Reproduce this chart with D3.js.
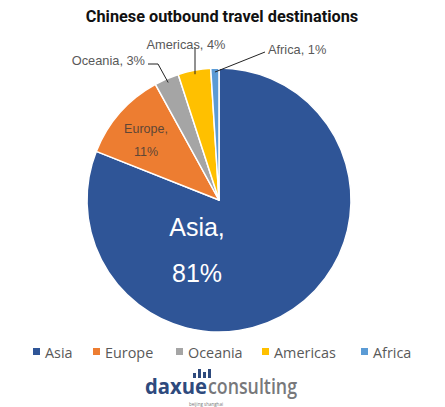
<!DOCTYPE html>
<html>
<head>
<meta charset="utf-8">
<script src="https://cdn.jsdelivr.net/npm/d3@7"></script>
<style>
  html, body { margin: 0; padding: 0; background: #fff; }
  svg { display: block; }
</style>
</head>
<body>
<svg id="chart" width="445" height="407"></svg>
<script>
// Destination shares (% of outbound trips)
const regions = ["Asia", "Europe", "Oceania", "Americas", "Africa"];
const shares = [81, 11, 3, 4, 1];
const colors = ["#2F5597", "#ED7D31", "#A5A5A5", "#FFC000", "#5B9BD5"];

const W = 445, H = 407;
const cx = 219, cy = 200, R = 132;

const svg = d3.select("#chart");

// Title
svg.append("text")
  .attr("x", 222).attr("y", 22)
  .attr("text-anchor", "middle")
  .attr("font-family", "Roboto, 'Liberation Sans', sans-serif")
  .attr("font-weight", "bold")
  .attr("font-size", 16.3)
  .attr("fill", "#111")
  .text("Chinese outbound travel destinations");

const data = regions.map((r, i) => ({ region: r, value: shares[i], color: colors[i] }));

const pie = d3.pie().sort(null).value(d => d.value);
const arcs = pie(data);
const arc = d3.arc().innerRadius(0).outerRadius(R);

const g = svg.append("g").attr("transform", `translate(${cx},${cy})`);

g.selectAll("path.slice")
  .data(arcs)
  .join("path")
  .attr("class", "slice")
  .attr("d", arc)
  .attr("fill", d => d.data.color)
  .attr("stroke", "#fff")
  .attr("stroke-width", 1.5)
  .attr("stroke-linejoin", "round");

const labelFont = "Arial, 'Liberation Sans', sans-serif";

// Inside labels for large slices: placed at a point relative to the pie centre
function insideLabel(px, py, lines, size, fill, gap) {
  const t = g.append("text")
    .attr("text-anchor", "middle")
    .attr("font-family", labelFont)
    .attr("font-size", size)
    .attr("fill", fill);
  lines.forEach((ln, i) => {
    t.append("tspan")
      .attr("x", px)
      .attr("y", py + (i - (lines.length - 1) / 2) * gap + size * 0.35)
      .text(ln);
  });
}

const byName = Object.fromEntries(arcs.map(a => [a.data.region, a]));
insideLabel(-22, 50, ["Asia,", byName["Asia"].data.value + "%"], 25, "#fff", 46);
insideLabel(-73, -60, ["Europe,", byName["Europe"].data.value + "%"], 12.5, "#5e4636", 23);

// Outside labels with leader lines
const outside = [
  { name: "Oceania", tx: 145, ty: 65, anchor: "end", pts: [[148, 64], [158, 64]] },
  { name: "Americas", tx: 186, ty: 49, anchor: "middle", pts: [[193, 47]] },
  { name: "Africa", tx: 268, ty: 54, anchor: "start", pts: [[265, 52]] }
];

outside.forEach(o => {
  const d = byName[o.name];
  const a = (d.startAngle + d.endAngle) / 2;
  const ex = cx + Math.sin(a) * R * 0.97, ey = cy - Math.cos(a) * R * 0.97;
  let pts = o.pts.concat([[ex, ey]]);
  if (o.name === "Americas") pts = [[ex, o.pts[0][1]], [ex, ey]];
  svg.append("path")
    .attr("d", d3.line()(pts))
    .attr("fill", "none")
    .attr("stroke", "#222")
    .attr("stroke-width", 1);
  svg.append("text")
    .attr("x", o.tx).attr("y", o.ty)
    .attr("text-anchor", o.anchor)
    .attr("font-family", labelFont)
    .attr("font-size", 12.8)
    .attr("fill", "#595959")
    .text(`${o.name}, ${d.data.value}%`);
});

// Legend
const legendX = [33, 93, 176, 262, 361];
const legend = svg.append("g");
data.forEach((d, i) => {
  legend.append("rect")
    .attr("x", legendX[i]).attr("y", 348)
    .attr("width", 7).attr("height", 7)
    .attr("fill", d.color);
  legend.append("text")
    .attr("x", legendX[i] + 12).attr("y", 357.5)
    .attr("font-family", "'Open Sans', 'Noto Sans', sans-serif")
    .attr("font-size", 14.4)
    .attr("fill", "#595959")
    .text(d.region);
});

// Brand mark: four bars over a two-tone wordmark
const logo = svg.append("g");
const barHeights = [5, 9, 6, 9];
const barX = [193, 198, 203, 208];
barHeights.forEach((h, i) => {
  logo.append("rect")
    .attr("x", barX[i]).attr("y", 378 - h)
    .attr("width", 3).attr("height", h)
    .attr("fill", "#2E4A7D");
});
const brandFont = "'Open Sans', 'Noto Sans', sans-serif";
logo.append("text")
  .attr("x", 145).attr("y", 394)
  .attr("font-family", brandFont)
  .attr("font-weight", "700")
  .attr("font-size", 21)
  .attr("textLength", 62)
  .attr("lengthAdjust", "spacingAndGlyphs")
  .attr("fill", "#2E4A7D")
  .text("daxue");
logo.append("text")
  .attr("x", 208).attr("y", 394)
  .attr("font-family", brandFont)
  .attr("font-weight", "600")
  .attr("font-size", 21)
  .attr("textLength", 89)
  .attr("lengthAdjust", "spacingAndGlyphs")
  .attr("fill", "#77787b")
  .text("consulting");
logo.append("text")
  .attr("x", 206).attr("y", 405.5)
  .attr("text-anchor", "middle")
  .attr("font-family", brandFont)
  .attr("font-size", 4.5)
  .attr("fill", "#777")
  .text("beijing shanghai");
</script>
</body>
</html>
